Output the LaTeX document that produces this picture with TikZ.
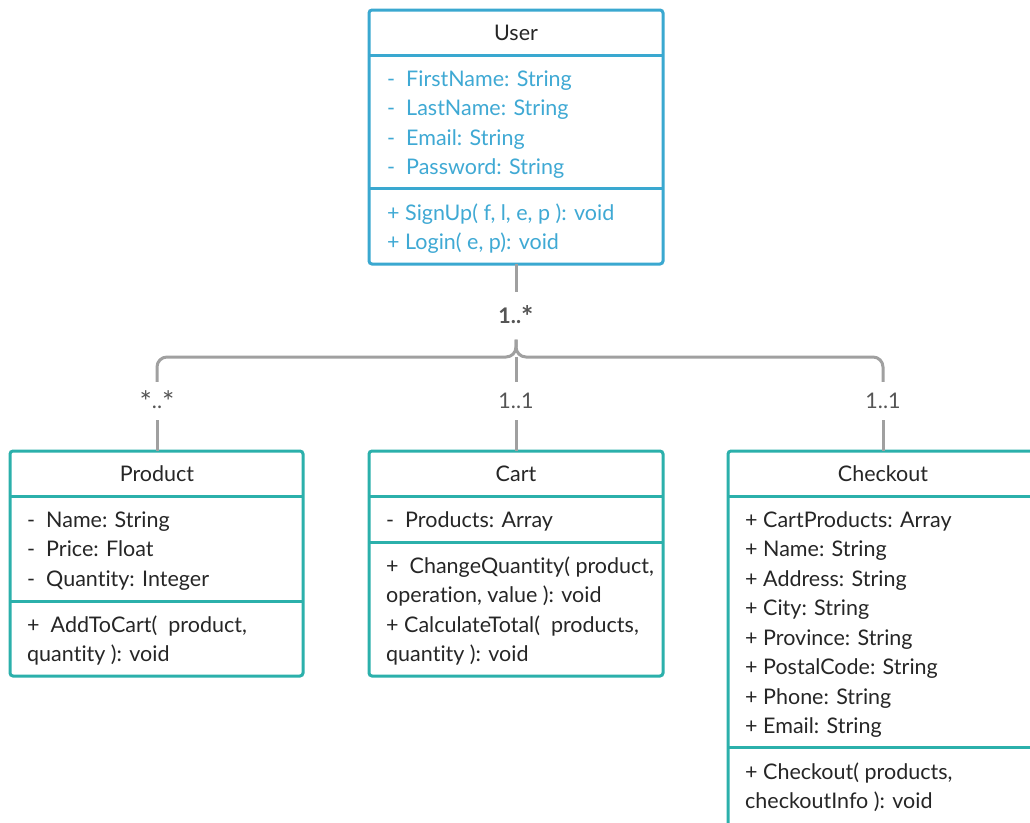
\documentclass[tikz,border=0pt]{standalone}
\usepackage{fontspec}
\setmainfont{Lato}[Ligatures={NoCommon}]
\definecolor{userline}{HTML}{3AA8D0}
\definecolor{usertext}{HTML}{3FA9D4}
\definecolor{boxteal}{HTML}{2BB0AB}
\definecolor{ink}{HTML}{262626}
\definecolor{wire}{HTML}{A0A0A0}
\definecolor{multc}{HTML}{555555}
% a larger asterisk for the multiplicities, top kept level with the digits
\newcommand\mstar{\raisebox{-4pt}{\scalebox{1.35}{*}}}
\tikzset{
  umlbox/.style={draw=#1, line width=3pt, rounded corners=3pt, fill=white,
    anchor=north west, inner sep=0pt, outer sep=0pt},
  divider/.style={draw=#1, line width=3pt},
  row/.style={anchor=west, inner sep=0pt, text height=15pt, text depth=0pt,
    font=\fontsize{21.5}{25}\selectfont, text=ink},
  title/.style={row, anchor=center},
  conn/.style={draw=wire, line width=3pt},
  mult/.style={inner sep=0pt, text height=15pt, text depth=0pt,
    font=\fontsize{21.5}{25}\selectfont, text=multc, minimum height=38pt}
}
\begin{document}
\begin{tikzpicture}[x=1pt, y=-1pt]
\clip (0,0) rectangle (1030,822);
\fill[white] (0,0) rectangle (1030,822);

% class boxes
\node[umlbox=userline, minimum width=294, minimum height=254] (user) at (369,10) {};
\node[umlbox=boxteal, minimum width=293, minimum height=225] (product) at (10,451) {};
\node[umlbox=boxteal, minimum width=294, minimum height=225] (cart) at (369,451) {};
\node[umlbox=boxteal, minimum width=310, minimum height=375] (checkout) at (728,451) {};

% compartment dividers
\draw[divider=userline] (user.west |- 0,55) -- (user.east |- 0,55);
\draw[divider=userline] (user.west |- 0,188) -- (user.east |- 0,188);
\draw[divider=boxteal] (product.west |- 0,496) -- (product.east |- 0,496);
\draw[divider=boxteal] (product.west |- 0,601) -- (product.east |- 0,601);
\draw[divider=boxteal] (cart.west |- 0,496) -- (cart.east |- 0,496);
\draw[divider=boxteal] (cart.west |- 0,542) -- (cart.east |- 0,542);
\draw[divider=boxteal] (checkout.west |- 0,496) -- (checkout.east |- 0,496);
\draw[divider=boxteal] (checkout.west |- 0,747) -- (checkout.east |- 0,747);

% User
\node[title] (usert) at (516,33) {User};
\foreach \t [count=\i from 0] in {-\ \ FirstName: String, -\ \ LastName: String,
    -\ \ Email: String, -\ \ Password: String}
  \node[row, text=usertext] (ua\i) at (387,{79+\i*29.4}) {\t};
\foreach \t [count=\i from 0] in {{+ SignUp( f, l, e, p ): void}, {+ Login( e, p): void}}
  \node[row, text=usertext] (um\i) at (387,{213+\i*29.4}) {\t};

% Product
\node[title] (productt) at (157,474) {Product};
\foreach \t [count=\i from 0] in {-\ \ Name: String, -\ \ Price: Float, -\ \ Quantity: Integer}
  \node[row] (pa\i) at (27,{520+\i*29.4}) {\t};
\foreach \t [count=\i from 0] in {{+\ \ AddToCart(\ \ product,}, {quantity ): void}}
  \node[row] (pm\i) at (27,{625+\i*29.4}) {\t};

% Cart
\node[title] (cartt) at (516,474) {Cart};
\node[row] (ca0) at (386,520) {-\ \ Products: Array};
\foreach \t [count=\i from 0] in {{+\ \ ChangeQuantity( product,}, {operation, value ): void},
    {+ CalculateTotal(\ \ products,}, {quantity ): void}}
  \node[row] (cm\i) at (386,{566+\i*29.4}) {\t};

% Checkout
\node[title] (checkoutt) at (883,474) {Checkout};
\foreach \t [count=\i from 0] in {+ CartProducts: Array, + Name: String, + Address: String,
    + City: String, + Province: String, + PostalCode: String, + Phone: String, + Email: String}
  \node[row] (ka\i) at (745,{520+\i*29.43}) {\t};
\foreach \t [count=\i from 0] in {{+ Checkout( products,}, {checkoutInfo ): void}}
  \node[row] (km\i) at (745,{772+\i*29.4}) {\t};

% associations
\node[mult, minimum height=47pt, font=\fontsize{21.5}{25}\selectfont\bfseries] (mtop) at (516,316) {1..\mstar};
\node[mult] (mprod) at (157,401) {\mstar..\mstar};
\node[mult] (mcart) at (516,401) {1..1};
\node[mult] (mcheck) at (883,401) {1..1};
\coordinate (hub) at (516,357);

\draw[conn] (user.south) -- (mtop.north);
\draw[conn, rounded corners=10pt] (mtop.south) -- (hub) -- (hub -| mprod) -- (mprod.north);
\draw[conn, rounded corners=10pt] (mtop.south) -- (hub) -- (hub -| mcheck) -- (mcheck.north);
\draw[conn] (hub) -- (mcart.north);
\draw[conn] (mprod.south) -- (product.north -| mprod);
\draw[conn] (mcart.south) -- (cart.north);
\draw[conn] (mcheck.south) -- (checkout.north -| mcheck);
\end{tikzpicture}
\end{document}
